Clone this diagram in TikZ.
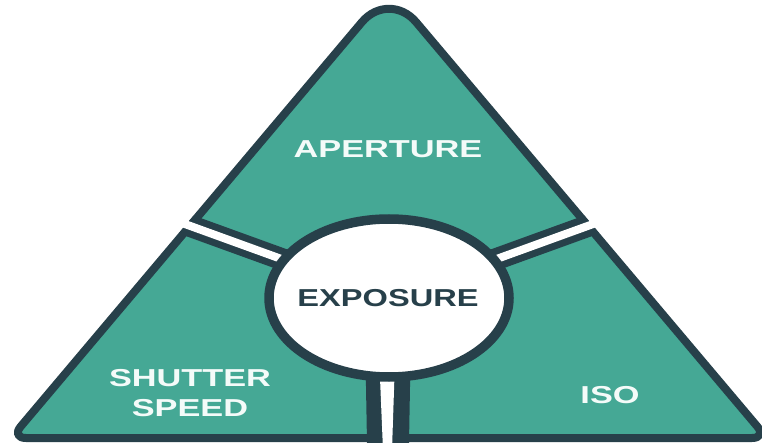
\documentclass[tikz,border=0pt]{standalone}
\usepackage{fontspec}
\setmainfont{Liberation Sans}
\usetikzlibrary{shapes.geometric}
\definecolor{tealfill}{HTML}{45A895}
\definecolor{slate}{HTML}{27404A}
\definecolor{paletext}{HTML}{F4FBF9}
\newcommand\wtxt[1]{\scalebox{1.33}[1]{#1}}
\newcommand\wwtxt[1]{\scalebox{1.4}[1]{#1}}
\begin{document}
\begin{tikzpicture}[x=1pt,y=-1pt,
  edge/.style={draw=slate, line width=8pt, fill=tealfill, line join=round},
  spokedark/.style={draw=slate, line width=22pt},
  spokewhite/.style={draw=white, line width=8pt},
  lbl/.style={font=\fontsize{24.5}{30}\selectfont\bfseries, text=paletext, align=center, inner sep=0pt},
  hub/.style={ellipse, draw=slate, line width=9.5pt, fill=white, minimum width=240pt, minimum height=158pt, inner sep=0pt}]
\useasboundingbox (0,0) rectangle (762,443);
% triangle
\path[edge] (389,438) [rounded corners=15] -- (767,438) [rounded corners=42] -- (389,-10) [rounded corners=15] -- (11,438) -- cycle;
% spokes
\coordinate (c) at (389,298);
\coordinate (lo) at (80,186);
\coordinate (ro) at (698,186);
\begin{scope}
  \clip (389,-16) -- (-46,500) -- (824,500) -- cycle;
  \draw[spokedark] (c) -- (lo);
  \draw[spokedark] (c) -- (ro);
  \fill[slate] (365,330) -- (411,330) -- (409,443) -- (367,443) -- cycle;
\end{scope}
\draw[spokewhite] (c) -- (lo);
\draw[spokewhite] (c) -- (ro);
\fill[white] (378,330) -- (396,330) -- (392,450) -- (383,450) -- cycle;
% hub
\node[hub] (exposure) at (c) {};
\node[lbl, text=slate] (exptext) at (388,298) {\wtxt{EXPOSURE}};
\node[lbl] (aperture) at (388,149) {\wwtxt{APERTURE}};
\node[lbl] (shutter) at (190,393) {\wwtxt{SHUTTER}\\\wwtxt{SPEED}};
\node[lbl] (iso) at (610,395) {\wwtxt{ISO}};
\end{tikzpicture}
\end{document}
